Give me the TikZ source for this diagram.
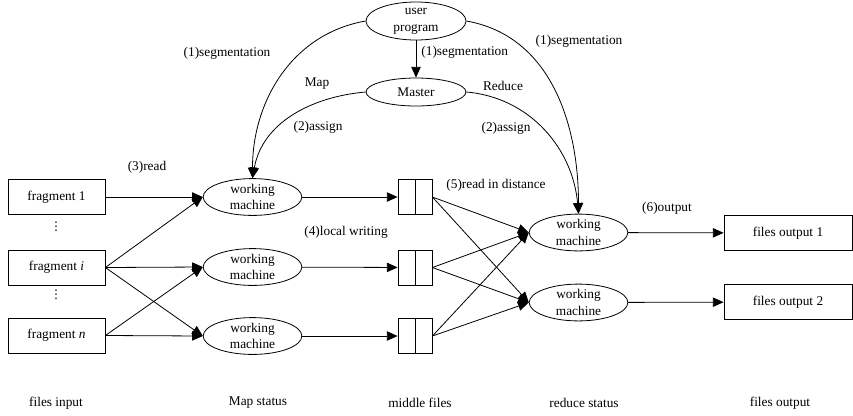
\documentclass[tikz,border=0pt]{standalone}
\usepackage{fontspec}
\setmainfont{Liberation Serif}
\newfontfamily\symfont{DejaVu Sans}
\usetikzlibrary{shapes.geometric, arrows.meta}
\tikzstyle{box}=[draw, rectangle, minimum width=72.75pt, minimum height=26.25pt, inner sep=0pt]
\tikzstyle{outbox}=[box, minimum width=96pt]
\tikzstyle{mach}=[draw, ellipse, minimum width=74pt, minimum height=25.5pt, inner sep=0pt, align=center, font=\fontsize{10}{12.5}\selectfont]
\tikzstyle{midfile}=[draw, rectangle, minimum width=25.5pt, minimum height=26.25pt, inner sep=0pt,
  path picture={\draw (path picture bounding box.north) -- (path picture bounding box.south);}]
\tikzstyle{vdot}=[inner sep=0pt, font=\symfont\fontsize{9}{10}\selectfont]
\tikzstyle{arr}=[-{Triangle[length=8pt,width=7pt]}]

\begin{document}
\begin{tikzpicture}[x=0.75pt, y=0.75pt, line width=0.6pt, font=\fontsize{10}{12.5}\selectfont]
	\useasboundingbox (0,0) rectangle (853,-415);
	\node[mach, minimum width=75pt, minimum height=28.5pt] (up) at (416,-21) {user\\program};
	\node[mach, minimum width=75pt, minimum height=21pt] (ms) at (416,-92) {Master};
	\node[box] (f1) at (56.5,-197) {fragment 1};
	\node[box] (fi) at (56.5,-267.5) {fragment \textit{i}};
	\node[box] (fn) at (56.5,-335.5) {fragment \textit{n}};
	\node[vdot] (v1) at (56,-227) {⋮};
	\node[vdot] (v2) at (56,-295) {⋮};
	\node[mach] (m1) at (252.5,-197) {working\\machine};
	\node[mach] (m2) at (252.5,-267) {working\\machine};
	\node[mach] (m3) at (252.5,-336) {working\\machine};
	\node[midfile] (d1) at (415,-197) {};
	\node[midfile] (d2) at (415,-267.5) {};
	\node[midfile] (d3) at (415,-336) {};
	\node[mach] (r1) at (578.5,-232.5) {working\\machine};
	\node[mach] (r2) at (578.5,-302.5) {working\\machine};
	\node[outbox] (o1) at (788,-233) {files output 1};
	\node[outbox] (o2) at (788,-302) {files output 2};

	\node (l1) at (227,-53) {(1)segmentation};
	\node (l2) at (317,-84) {Map};
	\node (l3) at (318,-127) {(2)assign};
	\node (l4) at (579,-41) {(1)segmentation};
	\node (l5) at (503,-86) {Reduce};
	\node (l6) at (506,-128) {(2)assign};
	\node[anchor=west, inner sep=0pt] (l7) at (421,-52) {(1)segmentation};
	\node (l8) at (147,-167) {(3)read};
	\node (l9) at (346,-232) {(4)local writing};
	\node (l10) at (496,-185) {(5)read in distance};
	\node (l11) at (667,-208) {(6)output};

	\node (s1) at (56,-403) {files input};
	\node (s2) at (258,-403) {Map status};
	\node (s3) at (420,-403) {middle files};
	\node (s4) at (584,-403) {reduce status};
	\node (s5) at (780,-403) {files output};

	\draw[arr] (up) -- (ms);
	\draw[arr] (up.west) to[out=190, in=90] (m1.north);
	\draw[arr] (ms.west) to[out=185, in=80] (m1.north);
	\draw[arr] (up.east) to[out=-10, in=90] (r1.north);
	\draw[arr] (ms.east) to[out=-5, in=95] (r1.north);

	\draw[arr] (f1.east) -- (m1.west);
	\draw[arr] (fi.east) -- (m1.west);
	\draw[arr] (fi.east) -- (m2.west);
	\draw[arr] (fi.east) -- (m3.west);
	\draw[arr] (fn.east) -- (m2.west);
	\draw[arr] (fn.east) -- (m3.west);

	\draw[arr] (m1) -- (d1);
	\draw[arr] (m2) -- (d2);
	\draw[arr] (m3) -- (d3);

	\foreach \d in {d1,d2,d3} {
		\draw[arr] (\d.east) -- (r1.west);
		\draw[arr] (\d.east) -- (r2.west);
	}

	\draw[arr] (r1) -- (o1);
	\draw[arr] (r2) -- (o2);
\end{tikzpicture}
\end{document}
